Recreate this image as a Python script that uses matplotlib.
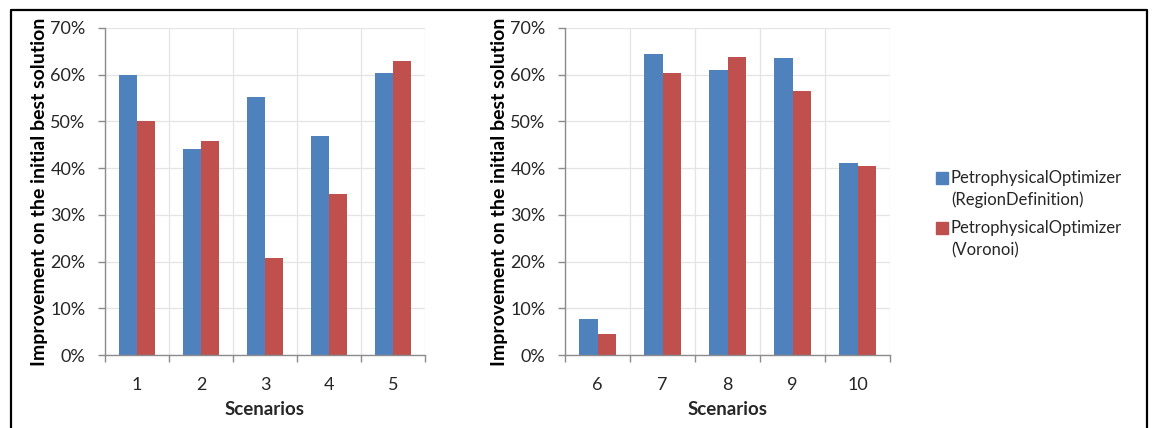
import matplotlib
matplotlib.use("Agg")
import matplotlib.pyplot as plt
from matplotlib.patches import Rectangle
from matplotlib.lines import Line2D
from matplotlib.ticker import FuncFormatter, FixedLocator

plt.rcParams['font.family'] = ['Lato', 'DejaVu Sans']

# Scenario labels and improvement values (percent)
scenarios_left = ["1", "2", "3", "4", "5"]
region_left = [59.9, 44.0, 55.3, 46.9, 60.3]
voronoi_left = [50.1, 45.8, 20.7, 34.4, 63.0]

scenarios_right = ["6", "7", "8", "9", "10"]
region_right = [7.8, 64.4, 61.0, 63.5, 41.0]
voronoi_right = [4.6, 60.3, 63.7, 56.6, 40.5]

series_names = [("PetrophysicalOptimizer", "(RegionDefinition)"),
                ("PetrophysicalOptimizer", "(Voronoi)")]
yticks = [0, 10, 20, 30, 40, 50, 60, 70]

BLUE = "#4F81BD"
RED = "#C0504D"
GRID = "#E4E4E4"
AXIS = "#8C8C8C"
TEXT = "#262626"

W, H = 1152, 428
fig = plt.figure(figsize=(W / 100, H / 100), dpi=100)


def panel(rect, labels, a, b):
    ax = fig.add_axes(rect)
    n = len(labels)
    x = list(range(n))
    bw = 0.287
    ax.bar([i - bw / 2 for i in x], a, width=bw, color=BLUE, zorder=3)
    ax.bar([i + bw / 2 for i in x], b, width=bw, color=RED, zorder=3)
    ax.set_xlim(-0.5, n - 0.5)
    ax.set_ylim(0, 70)
    ax.set_xticks(x)
    ax.set_xticklabels(labels)
    ax.xaxis.set_minor_locator(FixedLocator([i - 0.5 for i in range(n + 1)]))
    ax.set_yticks(yticks)
    ax.yaxis.set_major_formatter(FuncFormatter(lambda v, p: f"{v:.0f}%"))
    ax.tick_params(axis="x", which="major", length=0, pad=15.5,
                   labelsize=13, labelcolor=TEXT)
    ax.tick_params(axis="x", which="minor", length=5, width=1,
                   color=AXIS, direction="out")
    ax.tick_params(axis="y", length=5, width=1, color=AXIS,
                   direction="out", labelsize=13, labelcolor=TEXT, pad=9)
    ax.grid(axis="y", which="major", color=GRID, lw=0.9, zorder=0)
    ax.grid(axis="x", which="minor", color=GRID, lw=0.9, zorder=0)
    for s in ("top", "right"):
        ax.spines[s].set_visible(False)
    for s in ("left", "bottom"):
        ax.spines[s].set_color(AXIS)
        ax.spines[s].set_linewidth(1)
        ax.spines[s].set_zorder(4)
    ax.set_xlabel("Scenarios", fontsize=13.5, fontweight="bold",
                  color=TEXT, labelpad=6)
    ax.set_ylabel("Improvement on the initial best solution", fontsize=14,
                  fontweight="bold", color="black", labelpad=1.5)
    return ax


bottom = 1 - 355 / H
height = (355 - 28) / H
panel([105 / W, bottom, 320 / W, height], scenarios_left, region_left, voronoi_left)
panel([565 / W, bottom, 325 / W, height], scenarios_right, region_right, voronoi_right)

# Frame around the figure (open at the bottom)
xl, xr, yt = 11 / W, 1147 / W, 1 - 10 / H
fig.add_artist(Line2D([xl, xl, xr, xr], [-0.05, yt, yt, -0.05],
                      transform=fig.transFigure, color="black", lw=1.6))

# Legend
for color, (l1, l2), yc in [(BLUE, series_names[0], 178), (RED, series_names[1], 228)]:
    fig.add_artist(Rectangle((936 / W, 1 - (yc + 6) / H), 12 / W, 12 / H,
                             transform=fig.transFigure, color=color))
    fig.text(951 / W, 1 - yc / H, l1, fontsize=12, color=TEXT,
             va="center", ha="left")
    fig.text(951 / W, 1 - (yc + 22) / H, l2, fontsize=12, color=TEXT,
             va="center", ha="left")

fig.savefig("out.png", dpi=100)
